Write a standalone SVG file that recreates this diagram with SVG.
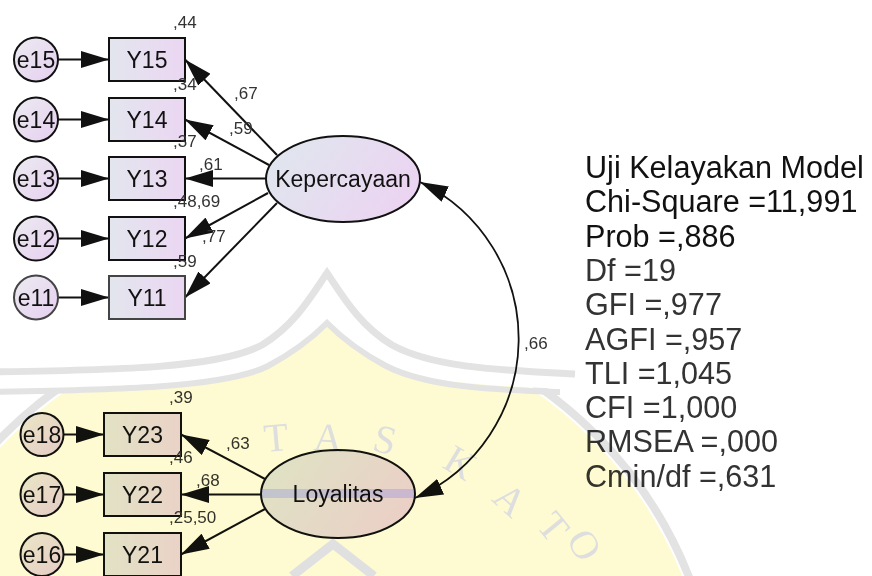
<svg xmlns="http://www.w3.org/2000/svg" width="872" height="576" viewBox="0 0 872 576">
  <style>
    .obs { fill: url(#gBox); stroke: #111; stroke-width: 2; }
    .err { fill: url(#gErr); stroke: #111; stroke-width: 2; }
    .lat { fill: url(#gLat); stroke: #111; stroke-width: 2; }
    .soft { stroke: #444; }
    .node-txt { font-family: "Liberation Sans", Arial, sans-serif; font-size: 23px; fill: #111; text-anchor: middle; }
    .lat-txt { font-family: "Liberation Sans", Arial, sans-serif; font-size: 23px; fill: #111; text-anchor: middle; }
    .est { font-family: "Liberation Sans", Arial, sans-serif; font-size: 17px; fill: #333; }
    .fit { font-family: "Liberation Sans", Arial, sans-serif; font-size: 30.6px; fill: #111; }
    .fit2 { fill: #333; }
    .path { fill: none; stroke: #111; stroke-width: 2; marker-end: url(#arrow); }
    .cov { fill: none; stroke: #111; stroke-width: 1.8; marker-start: url(#arrow); marker-end: url(#arrow); }
    .wm-band { fill: none; stroke: #e3e3e3; }
    .wm-letter { font-family: "Liberation Serif", "Times New Roman", serif; font-size: 40px; fill: #dedede; text-anchor: middle; }
  </style>
  <defs>
    <linearGradient id="gBox" x1="0" y1="0" x2="1" y2="0">
      <stop offset="0" stop-color="#e3e6ee"/>
      <stop offset="1" stop-color="#ebd6f2"/>
    </linearGradient>
    <linearGradient id="gErr" x1="0" y1="0" x2="1" y2="1">
      <stop offset="0" stop-color="#ecebf0"/>
      <stop offset="1" stop-color="#e6cff0"/>
    </linearGradient>
    <linearGradient id="gLat" x1="0" y1="0.3" x2="1" y2="0.7">
      <stop offset="0" stop-color="#e0e6ee"/>
      <stop offset="1" stop-color="#ecd3f2"/>
    </linearGradient>
    <marker id="arrow" viewBox="0 0 28 17" markerUnits="userSpaceOnUse" markerWidth="28" markerHeight="17" refX="28" refY="8.5" orient="auto-start-reverse">
      <path d="M0,0 L28,8.5 L0,17 Z" fill="#111"/>
    </marker>
    <clipPath id="underRoof">
      <path d="M -10 392 C 110 390, 225 388, 268 366 C 298 350, 314 336, 327 323 C 340 336, 356 350, 386 366 C 429 388, 544 390, 880 396 L 880 600 L -10 600 Z"/>
    </clipPath>
  </defs>

  <rect width="872" height="576" fill="#fff"/>

  <!-- paths, error terms and the covariance -->
  <g id="connectors">
    <line class="path" x1="58" y1="59.5" x2="109" y2="59.5"/>
    <line class="path" x1="58" y1="119.5" x2="109" y2="119.5"/>
    <line class="path" x1="58" y1="178.5" x2="109" y2="178.5"/>
    <line class="path" x1="58" y1="238.5" x2="109" y2="238.5"/>
    <line class="path soft" x1="58" y1="297.5" x2="109" y2="297.5"/>

    <line class="path" x1="277" y1="155" x2="185" y2="59.5"/>
    <line class="path" x1="269" y1="165" x2="185" y2="119.5"/>
    <line class="path" x1="266" y1="178.5" x2="185" y2="178.5"/>
    <line class="path" x1="268" y1="193" x2="185" y2="238.5"/>
    <line class="path soft" x1="277" y1="203" x2="185" y2="297.5"/>

    <line class="path" x1="63.5" y1="434.5" x2="104" y2="434.5"/>
    <line class="path" x1="63.5" y1="494.5" x2="104" y2="494.5"/>
    <line class="path" x1="63.5" y1="554.5" x2="104" y2="554.5"/>

    <line class="path" x1="265" y1="479" x2="181" y2="434.5"/>
    <line class="path" x1="261" y1="494.5" x2="181" y2="494.5"/>
    <line class="path" x1="265" y1="509" x2="181" y2="554.5"/>

    <path class="cov" d="M 420 182 A 174 174 0 0 1 415 498"/>
  </g>

  <!-- error terms -->
  <g id="e15"><circle class="err" cx="36" cy="59.5" r="22"/><text class="node-txt" x="36" y="67.5">e15</text></g>
  <g id="e14"><circle class="err" cx="36" cy="119.5" r="22"/><text class="node-txt" x="36" y="127.5">e14</text></g>
  <g id="e13"><circle class="err" cx="36" cy="178.5" r="22"/><text class="node-txt" x="36" y="186.5">e13</text></g>
  <g id="e12"><circle class="err" cx="36" cy="238.5" r="22"/><text class="node-txt" x="36" y="246.5">e12</text></g>
  <g id="e11"><circle class="err soft" cx="36" cy="297.5" r="22"/><text class="node-txt" x="36" y="305.5">e11</text></g>
  <g id="e18"><circle class="err" cx="42" cy="434.5" r="21.5"/><text class="node-txt" x="42" y="442.5">e18</text></g>
  <g id="e17"><circle class="err" cx="42" cy="494.5" r="21.5"/><text class="node-txt" x="42" y="502.5">e17</text></g>
  <g id="e16"><circle class="err" cx="42" cy="554.5" r="21.5"/><text class="node-txt" x="42" y="562.5">e16</text></g>

  <!-- observed indicators -->
  <g id="Y15"><rect class="obs" x="109" y="38" width="76" height="43"/><text class="node-txt" x="147" y="67.5">Y15</text></g>
  <g id="Y14"><rect class="obs" x="109" y="98" width="76" height="43"/><text class="node-txt" x="147" y="127.5">Y14</text></g>
  <g id="Y13"><rect class="obs" x="109" y="157" width="76" height="43"/><text class="node-txt" x="147" y="186.5">Y13</text></g>
  <g id="Y12"><rect class="obs" x="109" y="217" width="76" height="43"/><text class="node-txt" x="147" y="246.5">Y12</text></g>
  <g id="Y11"><rect class="obs soft" x="109" y="276" width="76" height="43"/><text class="node-txt" x="147" y="305.5">Y11</text></g>
  <g id="Y23"><rect class="obs" x="104" y="413" width="77" height="43"/><text class="node-txt" x="142.5" y="442.5">Y23</text></g>
  <g id="Y22"><rect class="obs" x="104" y="473" width="77" height="43"/><text class="node-txt" x="142.5" y="502.5">Y22</text></g>
  <g id="Y21"><rect class="obs" x="104" y="533" width="77" height="43"/><text class="node-txt" x="142.5" y="562.5">Y21</text></g>

  <!-- latent constructs -->
  <g id="Kepercayaan"><ellipse class="lat" cx="343" cy="179" rx="77" ry="43"/><text class="lat-txt" x="343" y="187">Kepercayaan</text></g>
  <g id="Loyalitas"><ellipse class="lat" cx="338" cy="494" rx="77" ry="44"/><text class="lat-txt" x="338" y="502">Loyalitas</text></g>

  <!-- estimates -->
  <g id="estimates">
    <text class="est" x="173" y="28">,44</text>
    <text class="est" x="173" y="90">,34</text>
    <text class="est" x="234" y="99">,67</text>
    <text class="est" x="229" y="134">,59</text>
    <text class="est" x="173" y="147">,37</text>
    <text class="est" x="199" y="170">,61</text>
    <text class="est" x="173" y="207">,48,69</text>
    <text class="est" x="202" y="242">,77</text>
    <text class="est" x="173" y="267">,59</text>
    <text class="est" x="169" y="403">,39</text>
    <text class="est" x="226" y="449">,63</text>
    <text class="est" x="169" y="463">,46</text>
    <text class="est" x="196" y="486">,68</text>
    <text class="est" x="169" y="523">,25,50</text>
    <text class="est" x="524" y="349">,66</text>
  </g>

  <!-- model fit summary -->
  <g id="fit-summary">
    <text class="fit" x="585" y="178">Uji Kelayakan Model</text>
    <text class="fit" x="585" y="212.3">Chi-Square =11,991</text>
    <text class="fit" x="585" y="246.6">Prob =,886</text>
    <text class="fit fit2" x="585" y="280.9">Df =19</text>
    <text class="fit fit2" x="585" y="315.2">GFI =,977</text>
    <text class="fit fit2" x="585" y="349.5">AGFI =,957</text>
    <text class="fit fit2" x="585" y="383.8">TLI =1,045</text>
    <text class="fit fit2" x="585" y="418.1">CFI =1,000</text>
    <text class="fit fit2" x="585" y="452.4">RMSEA =,000</text>
    <text class="fit fit2" x="585" y="486.7">Cmin/df =,631</text>
  </g>

  <!-- faint seal printed over the page -->
  <g id="watermark" style="mix-blend-mode:multiply">
    <circle cx="300" cy="730" r="412" fill="#fefbd2" clip-path="url(#underRoof)"/>
    <circle class="wm-band" cx="300" cy="730" r="418" stroke-width="8" clip-path="url(#underRoof)"/>
    <path class="wm-band" stroke-width="7" d="M -10 372 C 120 370, 220 368, 262 345 C 295 325, 312 295, 327 273 C 342 295, 359 325, 392 345 C 434 368, 500 370, 575 374"/>
    <path class="wm-band" stroke-width="6" d="M -10 392 C 110 390, 225 388, 268 366 C 298 350, 314 336, 327 323 C 340 336, 356 350, 386 366 C 429 388, 500 390, 560 392"/>
    <rect x="262" y="489" width="153" height="9" fill="#dcdcdc"/>
    <polyline points="292,576 333,544 374,576" fill="none" stroke="#e0e0e0" stroke-width="9"/>
    <g transform="translate(276,438) rotate(-5)"><text class="wm-letter" y="13">T</text></g>
    <g transform="translate(328,438) rotate(4)"><text class="wm-letter" y="13">A</text></g>
    <g transform="translate(385,440) rotate(14)"><text class="wm-letter" y="13">S</text></g>
    <g transform="translate(460,463) rotate(31)"><text class="wm-letter" y="13">K</text></g>
    <g transform="translate(510,500) rotate(42)"><text class="wm-letter" y="13">A</text></g>
    <g transform="translate(553,527) rotate(51)"><text class="wm-letter" y="13">T</text></g>
    <g transform="translate(584,545) rotate(61)"><text class="wm-letter" y="13">O</text></g>
  </g>
</svg>
